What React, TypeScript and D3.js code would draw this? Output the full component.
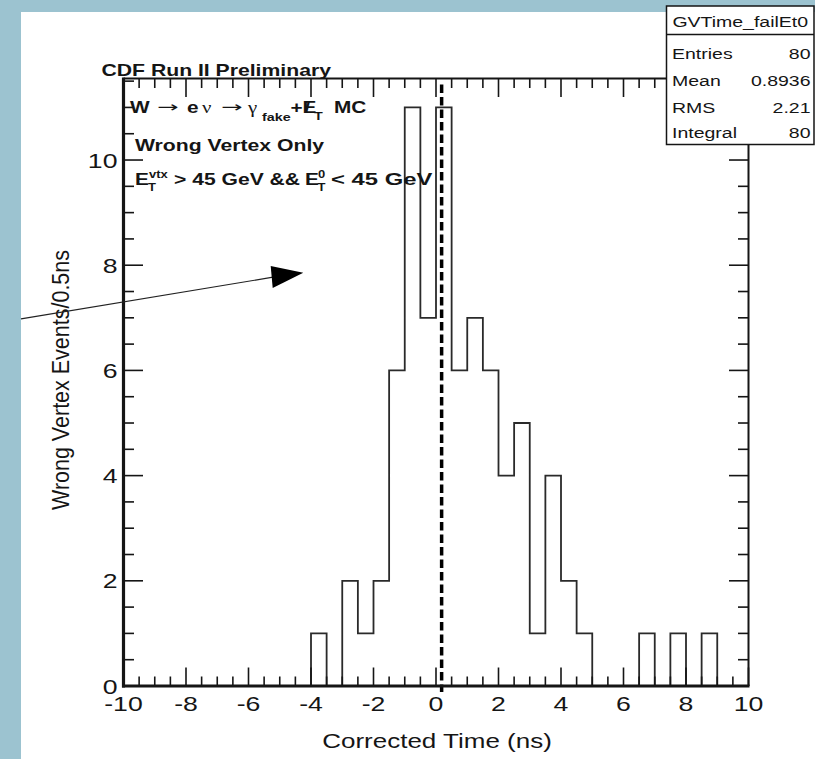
import React from "react";
import * as d3 from "d3";

// 40 bins of 0.5 ns from -10 to 10
const binLow = -10;
const binWidth = 0.5;
const counts = [
  0, 0, 0, 0, 0, 0, 0, 0, 0, 0, 0, 0, // -10 .. -4
  1, 0, 2, 1, 2, 6, 11, 7, // -4 .. 0
  11, 6, 7, 6, 4, 5, 1, 4, // 0 .. 4
  2, 1, 0, 0, 0, 1, 0, 1, // 4 .. 8
  0, 1, 0, 0, // 8 .. 10
];
const xLabels = [-10, -8, -6, -4, -2, 0, 2, 4, 6, 8, 10];
const yLabels = [0, 2, 4, 6, 8, 10];
const statNames = ["Entries", "Mean", "RMS", "Integral"];
const statValues = ["80", "0.8936", "2.21", "80"];
const histName = "GVTime_failEt0";
const cutValue = 0.18;

const W = 815;
const H = 759;
const SANS = "'Liberation Sans', Arial, Helvetica, sans-serif";
const SERIF = "'Liberation Serif', 'Times New Roman', serif";
const SX = 1.3; // the slide is stretched sideways
const INK = "#151515";

function T(props: any) {
  const { x, y, size, bold, anchor = "start", family = SANS, len, rot, children } = props;
  const tr = `translate(${x},${y}) scale(${SX},1)` + (rot ? ` rotate(${rot})` : "");
  return (
    <text
      transform={tr}
      fontSize={size}
      fontWeight={bold ? "bold" : "normal"}
      textAnchor={anchor}
      fontFamily={family}
      fill={INK}
      textLength={len}
      lengthAdjust={len ? "spacingAndGlyphs" : undefined}
    >
      {children}
    </text>
  );
}

export default function App() {
  const x = d3.scaleLinear().domain([-10, 10]).range([123.5, 748.5]);
  const y = d3.scaleLinear().domain([0, 11.55]).range([686, 78.5]);
  const [x0, x1] = x.range();
  const [yb, yt] = y.range();

  const pts: [number, number][] = [[binLow, 0]];
  counts.forEach((c, i) => {
    const lo = binLow + i * binWidth;
    pts.push([lo, c], [lo + binWidth, c]);
  });
  pts.push([binLow + counts.length * binWidth, 0]);
  const histPath = d3.line<[number, number]>().x(d => x(d[0])).y(d => y(d[1]))(pts) || "";

  const xTicks = d3.range(-10, 10.001, 0.5);
  const yTicks = d3.range(0, 11.55, 0.5);
  const isMajor = (v: number) => Math.abs(v % 2) < 1e-6;

  // stats box
  const bx0 = 666.5, bx1 = 814, by0 = 6, by1 = 144.5, bsep = 34.5;
  const rowY = [59, 86, 113, 138];

  return (
    <svg width={W} height={H} style={{ position: "absolute", left: 0, top: 0 }}>
      <rect x={0} y={0} width={W} height={H} fill="#9cc3d0" />
      <rect x={21} y={12} width={W - 21} height={H - 12} fill="#fff" />

      <path d={histPath} fill="none" stroke="#2a2a2a" strokeWidth={1.8} />

      <line x1={x(cutValue)} x2={x(cutValue)} y1={yt + 6} y2={yb + 6}
        stroke="#000" strokeWidth={3.5} strokeDasharray="8.5 4" />

      {/* frame */}
      <line x1={x0} x2={x1} y1={yt} y2={yt} stroke={INK} strokeWidth={2} />
      <line x1={x1} x2={x1} y1={yt} y2={yb} stroke={INK} strokeWidth={2} />
      {xTicks.map((v, i) => {
        const L = isMajor(v) ? 18.5 : 9.5;
        return (
          <g key={"xt" + i} stroke={INK} strokeWidth={1.6}>
            <line x1={x(v)} x2={x(v)} y1={yb} y2={yb - L} />
            <line x1={x(v)} x2={x(v)} y1={yt} y2={yt + L} />
          </g>
        );
      })}
      {yTicks.map((v, i) => {
        const L = isMajor(v) ? 19.5 : 10.5;
        return (
          <g key={"yt" + i} stroke={INK} strokeWidth={1.6}>
            <line x1={x0} x2={x0 + L} y1={y(v)} y2={y(v)} />
            <line x1={x1} x2={x1 - L} y1={y(v)} y2={y(v)} />
          </g>
        );
      })}
      <line x1={x0} x2={x0} y1={yt - 1} y2={yb + 1.5} stroke={INK} strokeWidth={3.2} />
      <line x1={x0 - 1.5} x2={x1 + 1} y1={yb} y2={yb} stroke={INK} strokeWidth={3.2} />

      {xLabels.map(v => (
        <T key={"xl" + v} x={x(v)} y={yb + 25} size={20.5} anchor="middle">{v}</T>
      ))}
      {yLabels.map(v => (
        <T key={"yl" + v} x={x0 - 6} y={y(v) + 7.5} size={20.5} anchor="end">{v}</T>
      ))}

      <T x={437} y={748} size={20} anchor="middle">Corrected Time (ns)</T>
      <T x={69} y={380} size={19} anchor="middle" rot={-90} len={260}>Wrong Vertex Events/0.5ns</T>

      {/* annotations */}
      <T x={101.5} y={75.5} size={16.3} bold>CDF Run II Preliminary</T>

      <T x={130} y={113} size={16} bold>W</T>
      <T x={157} y={112} size={15} family="'DejaVu Sans', sans-serif" len={16.5}>→</T>
      <T x={187} y={113} size={16} bold>e</T>
      <T x={202} y={113} size={16} family={SERIF}>ν</T>
      <T x={221} y={112} size={15} family="'DejaVu Sans', sans-serif" len={16.5}>→</T>
      <T x={248} y={113} size={16} family={SERIF}>γ</T>
      <T x={262} y={121} size={11} bold>fake</T>
      <T x={290.5} y={113} size={16} bold>+</T>
      <T x={302.5} y={113} size={16} bold>E</T>
      <T x={304.5} y={113} size={16} bold>/</T>
      <T x={314} y={120} size={11} bold>T</T>
      <T x={334} y={113} size={16} bold>MC</T>

      <T x={135} y={151} size={16.3} bold>Wrong Vertex Only</T>

      <T x={135} y={185} size={16} bold>E</T>
      <T x={149} y={178} size={10} bold>vtx</T>
      <T x={148} y={191} size={10} bold>T</T>
      <T x={174} y={185} size={16} bold len={97}>{"> 45 GeV &&"}</T>
      <T x={305} y={185} size={16} bold>E</T>
      <T x={318} y={178} size={10} bold>0</T>
      <T x={317.5} y={191} size={10} bold>T</T>
      <T x={331} y={185} size={16} bold len={78}>{"< 45 GeV"}</T>

      {/* arrow */}
      <line x1={21} y1={318.8} x2={273} y2={277.2} stroke="#222" strokeWidth={1.2} />
      <path d="M303.3,272.7 L270.7,266 L272.7,288 Z" fill="#000" />

      {/* stats box */}
      <rect x={bx0} y={by0} width={bx1 - bx0} height={by1 - by0} fill="#fff" stroke={INK} strokeWidth={1.5} />
      <line x1={bx0} x2={bx1} y1={bsep} y2={bsep} stroke={INK} strokeWidth={1.5} />
      <T x={(bx0 + bx1) / 2} y={27.3} size={15} anchor="middle">{histName}</T>
      {statNames.map((n, i) => (
        <g key={n}>
          <T x={672} y={rowY[i]} size={15}>{n}</T>
          <T x={810.5} y={rowY[i]} size={15} anchor="end">{statValues[i]}</T>
        </g>
      ))}
    </svg>
  );
}
